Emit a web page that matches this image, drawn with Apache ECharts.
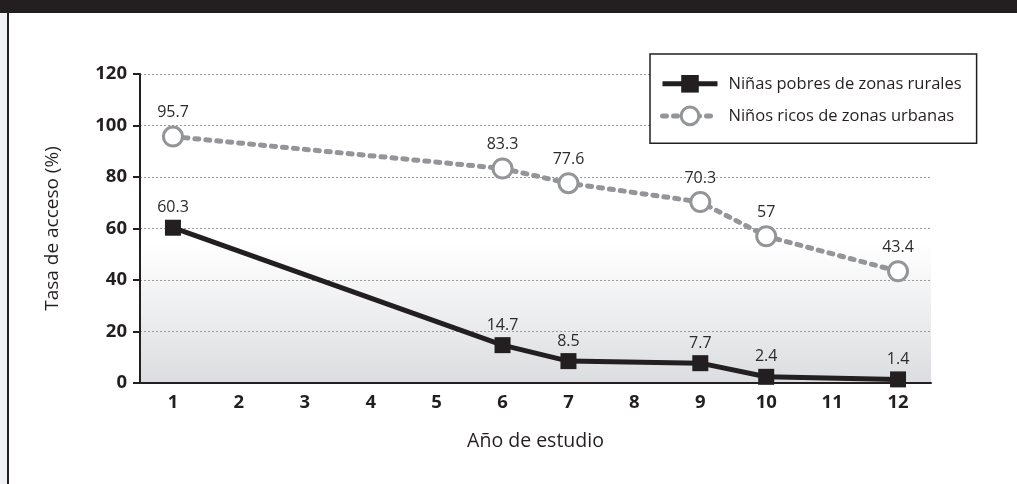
<!DOCTYPE html>
<html>
<head>
<meta charset="utf-8">
<script src="https://cdn.jsdelivr.net/npm/echarts@6/dist/echarts.min.js"></script>
<style>
  html, body { margin: 0; padding: 0; background: #fff; }
  #chart { width: 1017px; height: 484px; }
</style>
</head>
<body>
<div id="chart"></div>
<script>
// años de estudio
const years = ['1', '2', '3', '4', '5', '6', '7', '8', '9', '10', '11', '12'];
// tasas de acceso (%), null = sin dato
const ruralGirls = [60.3, null, null, null, null, 14.7, 8.5, null, 7.7, 2.4, null, 1.4];
const urbanBoys = [95.7, null, null, null, null, 83.3, 77.6, null, 70.3, 57, null, 43.4];
const yTicks = { min: 0, max: 120, interval: 20 };

const dark = '#231f20';
const grey = '#939598';
const font = 'Open Sans';

const ruralLine = { color: dark, width: 5 };
const urbanLine = { color: grey, width: 5, type: [4, 7], cap: 'round' };

const chart = echarts.init(document.getElementById('chart'));

const option = {
  animation: false,
  textStyle: { fontFamily: font },
  graphic: [
    { type: 'rect', shape: { x: 0, y: 0, width: 1017, height: 13 }, style: { fill: dark } },
    { type: 'rect', shape: { x: 0, y: 13, width: 7, height: 471 }, style: { fill: '#f1f2f4' } },
    { type: 'rect', shape: { x: 7, y: 13, width: 2, height: 471 }, style: { fill: dark } }
  ],
  grid: {
    left: 140,
    right: 86,
    top: 74,
    bottom: 101,
    show: true,
    borderWidth: 0,
    backgroundColor: new echarts.graphic.LinearGradient(0, 0, 0, 1, [
      { offset: 0, color: '#ffffff' },
      { offset: 0.55, color: '#ffffff' },
      { offset: 1, color: '#dcdde0' }
    ])
  },
  legend: {
    left: 650,
    top: 54,
    orient: 'vertical',
    padding: [21, 15, 17, 10],
    itemWidth: 55,
    itemHeight: 22,
    itemGap: 13,
    backgroundColor: '#fff',
    borderColor: dark,
    borderWidth: 1.5,
    textStyle: { fontSize: 16.5, color: dark, fontFamily: font, padding: [0, 0, 0, 6] },
    data: [
      {
        name: 'Niñas pobres de zonas rurales',
        itemStyle: { color: dark, borderWidth: 0 },
        lineStyle: ruralLine
      },
      {
        name: 'Niños ricos de zonas urbanas',
        itemStyle: { color: '#fff', borderColor: grey, borderWidth: 3 },
        lineStyle: urbanLine
      }
    ]
  },
  xAxis: {
    type: 'category',
    data: years,
    boundaryGap: true,
    name: 'Año de estudio',
    nameLocation: 'middle',
    nameGap: 48,
    nameTextStyle: { fontSize: 19.5, color: dark },
    axisLine: { lineStyle: { color: dark, width: 2 } },
    axisTick: { length: 7, lineStyle: { color: dark, width: 2 } },
    axisLabel: { margin: 10, fontSize: 18.5, fontWeight: 'bold', color: dark }
  },
  yAxis: {
    type: 'value',
    min: yTicks.min,
    max: yTicks.max,
    interval: yTicks.interval,
    name: 'Tasa de acceso (%)',
    nameLocation: 'middle',
    nameGap: 78,
    nameTextStyle: { fontSize: 19, color: dark },
    axisLine: { show: true, lineStyle: { color: dark, width: 2 } },
    axisTick: { show: true, length: 7, lineStyle: { color: dark, width: 2 } },
    axisLabel: { margin: 13, fontSize: 18.5, fontWeight: 'bold', color: dark },
    splitLine: { lineStyle: { color: '#9a9a9a', type: [2, 2], width: 1 } }
  },
  series: [
    {
      name: 'Niñas pobres de zonas rurales',
      type: 'line',
      data: ruralGirls,
      connectNulls: true,
      symbol: 'rect',
      symbolSize: 16,
      z: 3,
      lineStyle: ruralLine,
      itemStyle: { color: dark, borderWidth: 0 },
      label: { show: true, position: 'top', distance: 4, fontSize: 16, color: '#2b2b2b' }
    },
    {
      name: 'Niños ricos de zonas urbanas',
      type: 'line',
      data: urbanBoys,
      connectNulls: true,
      symbol: 'circle',
      symbolSize: 19,
      z: 2,
      lineStyle: urbanLine,
      itemStyle: { color: '#fff', borderColor: grey, borderWidth: 3 },
      label: { show: true, position: 'top', distance: 5, fontSize: 16, color: '#2b2b2b' }
    }
  ]
};

chart.setOption(option);
</script>
</body>
</html>
